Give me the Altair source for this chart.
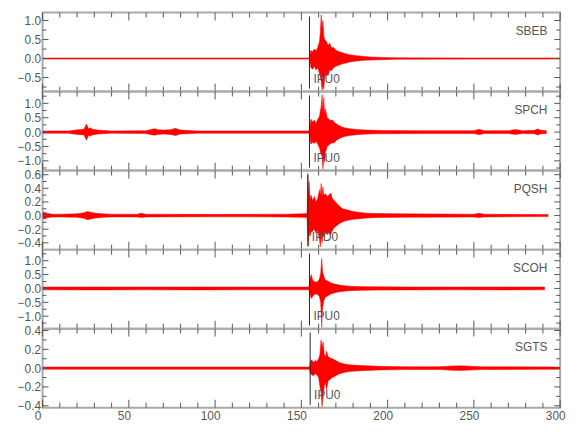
import altair as alt
import pandas as pd

FONT = "Liberation Sans, Arial, sans-serif"
RED = "#ff0000"
TXT = "#555555"
TICK = "#555555"
W = 524
H = 80

STATIONS = ["SBEB", "SPCH", "PQSH", "SCOH", "SGTS"]
PICK_LABELS = ["IPU0", "IPU0", "IPD0", "IPU0", "IPU0"]
PICK_TIMES = [154.7, 154.7, 153.8, 154.7, 155.1]
Y_DOMAINS = [[-0.87, 1.21], [-1.34, 1.41], [-0.5, 0.66], [-1.45, 1.40], [-0.42, 0.42]]
Y_MAJOR = [[1.0, 0.5, 0.0, -0.5],
           [1.0, 0.5, 0.0, -0.5, -1.0],
           [0.6, 0.4, 0.2, 0.0, -0.2, -0.4],
           [1.0, 0.5, 0.0, -0.5, -1.0],
           [0.4, 0.2, 0.0, -0.2, -0.4]]
Y_MINOR = [[0.75, 0.25, -0.25, -0.75],
           [1.25, 0.75, 0.25, -0.25, -0.75, -1.25],
           [0.5, 0.3, 0.1, -0.1, -0.3],
           [1.25, 0.75, 0.25, -0.25, -0.75, -1.25],
           [0.3, 0.1, -0.1, -0.3]]
X_MAJOR = [0, 50, 100, 150, 200, 250, 300]
X_MINOR = [10, 20, 30, 40, 60, 70, 80, 90, 110, 120, 130, 140, 160, 170, 180, 190,
           210, 220, 230, 240, 260, 270, 280, 290]

# ---- trace envelopes (time s, upper, lower) ----
T_SBEB = [0, 50, 100, 154.5, 155.0, 155.5, 156.5, 157.5, 158.5, 159.5, 160.5, 161.0, 161.5, 162.0,
          162.5, 163.0, 163.5, 164.5, 165.5, 166.5, 167.5, 168.5, 170, 172, 174, 176, 178, 181, 185,
          190, 197, 205, 250, 300]
UP_SBEB = [0.015, 0.015, 0.015, 0.015, 0.10, 0.22, 0.17, 0.25, 0.20, 0.30, 0.45, 0.70, 1.15, 0.80,
           1.00, 0.60, 0.50, 0.45, 0.35, 0.40, 0.28, 0.30, 0.22, 0.18, 0.15, 0.12, 0.10, 0.08, 0.06,
           0.04, 0.03, 0.02, 0.015, 0.015]
LO_SBEB = [-0.015, -0.015, -0.015, -0.015, -0.08, -0.24, -0.28, -0.20, -0.30, -0.24, -0.40, -0.50,
           -0.60, -0.84, -0.70, -0.80, -0.50, -0.42, -0.45, -0.30, -0.32, -0.25, -0.20, -0.17, -0.14,
           -0.12, -0.09, -0.07, -0.05, -0.04, -0.03, -0.02, -0.015, -0.015]

T_SPCH = [0, 15, 20, 24, 25.5, 26.5, 27.5, 29, 32, 40, 60, 63, 65, 67, 70, 74, 77, 80, 90, 120,
          150, 154.5, 155.0, 155.5, 156.5, 157.5, 158.5, 159.5, 160.5, 161.5, 162.0, 162.5, 163.0,
          163.5, 164.0, 165.0, 166.0, 167.0, 168.0, 169.0, 170.5, 172, 175, 178, 181, 184, 188, 192,
          200, 220, 250, 253, 256, 270, 274, 278, 285, 287, 289, 292]
UP_SPCH = [0.04, 0.04, 0.08, 0.10, 0.28, 0.12, 0.15, 0.10, 0.07, 0.04, 0.05, 0.09, 0.12, 0.08, 0.07,
           0.08, 0.13, 0.07, 0.04, 0.04, 0.04, 0.04, 0.20, 0.45, 0.35, 0.42, 0.30, 0.45, 0.55, 0.90,
           1.30, 0.70, 1.20, 0.60, 0.80, 0.50, 0.45, 0.40, 0.42, 0.35, 0.28, 0.22, 0.15, 0.12, 0.10,
           0.08, 0.07, 0.06, 0.055, 0.05, 0.05, 0.10, 0.05, 0.05, 0.09, 0.05, 0.06, 0.11, 0.06, 0.05]
LO_SPCH = [-0.04, -0.04, -0.08, -0.10, -0.28, -0.12, -0.14, -0.10, -0.07, -0.04, -0.05, -0.09, -0.11,
           -0.08, -0.07, -0.08, -0.12, -0.07, -0.04, -0.04, -0.04, -0.04, -0.20, -0.42, -0.35, -0.40,
           -0.32, -0.42, -0.55, -0.80, -0.85, -1.28, -0.90, -1.05, -0.70, -0.50, -0.45, -0.40, -0.38,
           -0.37, -0.28, -0.22, -0.15, -0.12, -0.10, -0.08, -0.07, -0.06, -0.055, -0.05, -0.05, -0.09,
           -0.05, -0.05, -0.08, -0.05, -0.06, -0.10, -0.06, -0.05]

T_PQSH = [0, 1, 3, 6, 10, 20, 24, 26, 28, 31, 35, 40, 55, 57, 60, 100, 140, 150, 153.3, 153.7,
          154.1, 154.5, 155.0, 155.6, 156.5, 157.5, 158.5, 159.5, 160.5, 161.0, 161.5, 162.0, 162.5,
          163.0, 164.0, 165.0, 166.0, 167.0, 168.0, 169.0, 170.5, 172, 174, 177, 180, 184, 188, 195,
          210, 250, 253, 256, 293]
UP_PQSH = [0.04, 0.05, 0.03, 0.02, 0.02, 0.025, 0.04, 0.06, 0.05, 0.035, 0.025, 0.02, 0.02, 0.035,
           0.02, 0.018, 0.02, 0.025, 0.03, 0.62, 0.30, 0.50, 0.25, 0.30, 0.22, 0.28, 0.20, 0.25, 0.38,
           0.30, 0.47, 0.28, 0.42, 0.30, 0.32, 0.28, 0.30, 0.33, 0.25, 0.22, 0.18, 0.14, 0.10, 0.08,
           0.06, 0.045, 0.035, 0.03, 0.025, 0.02, 0.035, 0.02, 0.015]
LO_PQSH = [-0.04, -0.05, -0.03, -0.02, -0.02, -0.025, -0.04, -0.06, -0.05, -0.035, -0.025, -0.02,
           -0.02, -0.03, -0.02, -0.018, -0.02, -0.025, -0.03, -0.30, -0.44, -0.25, -0.30, -0.24,
           -0.23, -0.20, -0.26, -0.22, -0.35, -0.46, -0.30, -0.40, -0.28, -0.32, -0.25, -0.28, -0.24,
           -0.28, -0.22, -0.18, -0.15, -0.12, -0.09, -0.07, -0.055, -0.045, -0.035, -0.03, -0.025,
           -0.02, -0.03, -0.02, -0.015]

T_SCOH = [0, 30, 60, 90, 120, 150, 154.5, 155.0, 155.7, 156.5, 157.5, 158.5, 159.5, 160.5, 161.2,
          161.8, 162.3, 163.0, 163.8, 165.0, 166.5, 168, 170, 172, 175, 178, 182, 188, 195, 210,
          240, 270, 291]
UP_SCOH = [0.05, 0.055, 0.05, 0.055, 0.05, 0.05, 0.05, 0.35, 0.50, 0.30, 0.25, 0.22, 0.25, 0.35,
           0.55, 1.08, 0.60, 0.45, 0.30, 0.28, 0.22, 0.18, 0.15, 0.12, 0.10, 0.08, 0.07, 0.065, 0.06,
           0.055, 0.05, 0.055, 0.05]
LO_SCOH = [-0.05, -0.055, -0.05, -0.055, -0.05, -0.05, -0.05, -0.20, -0.36, -0.30, -0.22, -0.20,
           -0.22, -0.30, -0.50, -1.40, -0.70, -0.45, -0.32, -0.28, -0.22, -0.18, -0.15, -0.12, -0.10,
           -0.08, -0.07, -0.065, -0.06, -0.055, -0.05, -0.055, -0.05]

T_SGTS = [0, 100, 150, 154.8, 155.2, 156, 157, 158, 159, 160, 160.8, 161.4, 162, 162.6, 163.2, 164,
          164.6, 165.5, 166.5, 168, 170, 172, 175, 178, 182, 188, 195, 210, 230, 237, 242, 248, 255,
          300]
UP_SGTS = [0.012, 0.012, 0.012, 0.012, 0.07, 0.09, 0.06, 0.08, 0.07, 0.10, 0.15, 0.30, 0.22, 0.28,
           0.15, 0.12, 0.18, 0.12, 0.11, 0.10, 0.08, 0.06, 0.045, 0.035, 0.03, 0.025, 0.02, 0.015,
           0.015, 0.022, 0.025, 0.02, 0.015, 0.012]
LO_SGTS = [-0.012, -0.012, -0.012, -0.012, -0.06, -0.07, -0.08, -0.06, -0.07, -0.10, -0.20, -0.25,
           -0.41, -0.30, -0.20, -0.15, -0.23, -0.14, -0.12, -0.10, -0.08, -0.06, -0.045, -0.035,
           -0.03, -0.025, -0.02, -0.015, -0.015, -0.022, -0.025, -0.02, -0.015, -0.012]

TRACES = [(T_SBEB, UP_SBEB, LO_SBEB), (T_SPCH, UP_SPCH, LO_SPCH), (T_PQSH, UP_PQSH, LO_PQSH),
          (T_SCOH, UP_SCOH, LO_SCOH), (T_SGTS, UP_SGTS, LO_SGTS)]


def panel(i, last):
    t, up, lo = TRACES[i]
    df = pd.DataFrame({"t": t, "up": up, "lo": lo})
    xs = alt.Scale(domain=[0, 300], nice=False, zero=False)
    ys = alt.Scale(domain=Y_DOMAINS[i], nice=False, zero=False)
    if last:
        xaxis = alt.Axis(values=X_MAJOR, ticks=False, domain=False, grid=False, labelPadding=3,
                         labelFont=FONT, labelFontSize=12, labelColor=TXT, labelOffset=-5,
                         labelFlush=False, title=None)
    else:
        xaxis = None
    yaxis = alt.Axis(values=Y_MAJOR[i], format=".1f", ticks=False, domain=False, grid=False,
                     labelPadding=2, labelFont=FONT, labelFontSize=12, labelColor=TXT,
                     labelFlush=False, title=None)

    def X(f):
        return alt.X(f, type="quantitative", scale=xs, axis=xaxis)

    def Y(f):
        return alt.Y(f, type="quantitative", scale=ys, axis=yaxis)

    area = alt.Chart(df).mark_area(color=RED, stroke=RED, strokeWidth=0.5, clip=True).encode(
        x=X("t"), y=Y("up"), y2="lo")

    layers = [area]
    for vals, ln in ((X_MAJOR, 8), (X_MINOR, 5)):
        d = pd.DataFrame({"v": vals})
        layers.append(alt.Chart(d).mark_rule(color=TICK, strokeWidth=1).encode(
            x=X("v"), y=alt.value(0), y2=alt.value(ln)))
        layers.append(alt.Chart(d).mark_rule(color=TICK, strokeWidth=1).encode(
            x=X("v"), y=alt.value(H), y2=alt.value(H - ln)))
    for vals, ln in ((Y_MAJOR[i], 6), (Y_MINOR[i], 4)):
        d = pd.DataFrame({"v": vals})
        layers.append(alt.Chart(d).mark_rule(color=TICK, strokeWidth=1).encode(
            y=Y("v"), x=alt.value(0), x2=alt.value(ln)))
        layers.append(alt.Chart(d).mark_rule(color=TICK, strokeWidth=1).encode(
            y=Y("v"), x=alt.value(W), x2=alt.value(W - ln)))

    pk = pd.DataFrame({"t": [PICK_TIMES[i]], "lab": [PICK_LABELS[i]]})
    layers.append(alt.Chart(pk).mark_rule(color="#222222", strokeWidth=1).encode(
        x=X("t"), y=alt.value(4), y2=alt.value(H - 3)))
    layers.append(alt.Chart(pk).mark_text(align="left", baseline="alphabetic", dx=4, font=FONT,
                                          fontSize=12, color=TXT).encode(
        x=X("t"), y=alt.value(H - 9), text="lab:N"))
    st = pd.DataFrame({"s": [STATIONS[i]]})
    layers.append(alt.Chart(st).mark_text(align="right", baseline="middle", font=FONT,
                                          fontSize=12, color=TXT).encode(
        x=alt.value(W - 13), y=alt.value(19), text="s:N"))
    return alt.layer(*layers).properties(width=W, height=H)


panels = [panel(i, i == len(STATIONS) - 1) for i in range(len(STATIONS))]
chart = alt.vconcat(*panels, spacing=0, bounds="flush").properties(
    padding={"left": 8, "top": 0, "right": 5, "bottom": 5}
).configure_view(stroke="#aaaaaa", strokeWidth=2)

chart.save("out.html", embed_options={"renderer": "svg", "actions": False})
